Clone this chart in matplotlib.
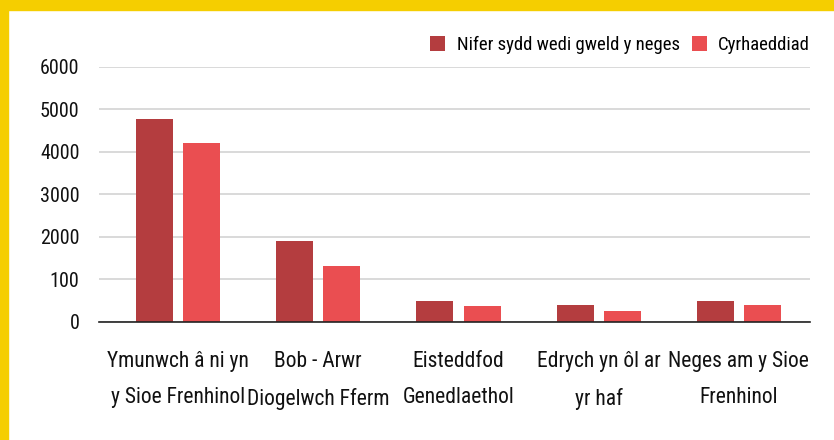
import numpy as np
import matplotlib.pyplot as plt
from matplotlib.patches import Rectangle

plt.rcParams['font.family'] = ['Liberation Sans Narrow', 'Roboto Condensed',
                               'Open Sans Condensed', 'Noto Sans', 'DejaVu Sans']
plt.rcParams['font.stretch'] = 'condensed'

categorïau = ["Ymunwch â ni yn\ny Sioe Frenhinol", "Bob - Arwr\nDiogelwch Fferm",
              "Eisteddfod\nGenedlaethol", "Edrych yn ôl ar\nyr haf",
              "Neges am y Sioe\nFrenhinol"]
gweld = [4780, 1900, 480, 400, 480]
cyrhaeddiad = [4200, 1300, 380, 250, 400]
yticks = [0, 1000, 2000, 3000, 4000, 5000, 6000]
ytick_labels = ['0', '100', '2000', '3000', '4000', '5000', '6000']

lliw_tywyll = '#B43D3F'
lliw_golau = '#EA4E51'

fig = plt.figure(figsize=(8.34, 4.40), dpi=100)
fig.patch.set_facecolor('white')

# border melyn ar y top a'r chwith
fig.patches.append(Rectangle((0, 1 - 10/440), 1, 10/440, transform=fig.transFigure,
                             color='#F5CE00', zorder=0))
fig.patches.append(Rectangle((0, 0), 8/834, 1, transform=fig.transFigure,
                             color='#F5CE00', zorder=0))

ax = fig.add_axes([99/834, (440-321.7)/440, (810-99)/834, (321.7-66.7)/440])

x = np.arange(len(categorïau))
w = 0.264
off = 0.168
ax.bar(x - off, gweld, w, color=lliw_tywyll, label='Nifer sydd wedi gweld y neges', zorder=2)
ax.bar(x + off, cyrhaeddiad, w, color=lliw_golau, label='Cyrhaeddiad', zorder=2)

ax.set_ylim(0, 6000)
ax.set_xlim(-0.564, 4.507)
ax.set_yticks(yticks)
ax.set_yticklabels(ytick_labels)
ax.set_xticks(x)
ax.set_xticklabels(categorïau, linespacing=1.95)
ax.tick_params(axis='y', length=0, pad=14, labelsize=14.5, colors='#111111')
ax.tick_params(axis='x', length=0, pad=21, labelsize=15.5, colors='#111111')

ax.yaxis.grid(True, color='#D3D3D3', linewidth=1.2, zorder=0)
ax.set_axisbelow(True)
for s in ['top', 'left', 'right']:
    ax.spines[s].set_visible(False)
ax.spines['bottom'].set_color('#222222')
ax.spines['bottom'].set_linewidth(1.2)
ax.spines['bottom'].set_zorder(3)

ax.legend(loc='lower right', bbox_to_anchor=(1.0, 1.05), ncol=2, frameon=False,
          fontsize=13.5, handlelength=0.8, handleheight=0.8, handletextpad=0.6,
          columnspacing=0.65, borderaxespad=0, borderpad=0)

fig.savefig('out.png', dpi=100)
